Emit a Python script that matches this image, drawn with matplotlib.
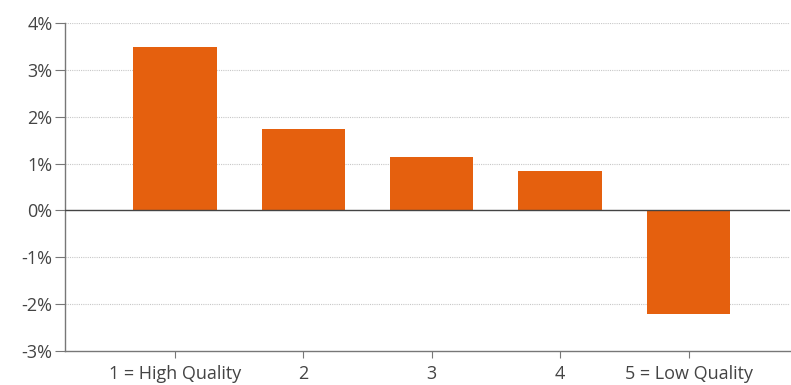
import matplotlib
matplotlib.use("Agg")
import matplotlib.pyplot as plt
from matplotlib.ticker import FuncFormatter

categories = ["1 = High Quality", "2", "3", "4", "5 = Low Quality"]
values = [3.48, 1.73, 1.13, 0.85, -2.2]
yticks = [-3, -2, -1, 0, 1, 2, 3, 4]

plt.rcParams['font.family'] = ['Open Sans', 'DejaVu Sans']
fig = plt.figure(figsize=(7.91, 3.85), dpi=100)
ax = fig.add_axes([0.0822, 0.0883, 0.9165, 0.852])
x = list(range(len(categories)))
ax.bar(x, values, width=0.65, color="#e5600e", zorder=3)
ax.set_xlim(-0.856, 4.79)
ax.set_ylim(-3, 4)
ax.set_yticks(yticks)
ax.yaxis.set_major_formatter(FuncFormatter(lambda v, p: f"{int(round(v))}%"))
ax.set_xticks(x)
ax.set_xticklabels(categories)
for t in yticks:
    if t not in (0, -3):
        ax.axhline(t, color="#c8c8c8", lw=0.8, ls=(0, (1, 1)), zorder=1)
ax.axhline(0, color="#444444", lw=1.0, zorder=4)
for s in ["top", "right"]:
    ax.spines[s].set_visible(False)
ax.spines["left"].set_color("#777777")
ax.spines["bottom"].set_color("#777777")
ax.spines["left"].set_linewidth(1.0)
ax.spines["bottom"].set_linewidth(1.0)
ax.tick_params(axis="y", length=7, color="#777777", labelcolor="#444444", labelsize=13, pad=2)
ax.tick_params(axis="x", length=5, color="#777777", labelcolor="#444444", labelsize=13, pad=5)
fig.savefig("out.png", dpi=100)
